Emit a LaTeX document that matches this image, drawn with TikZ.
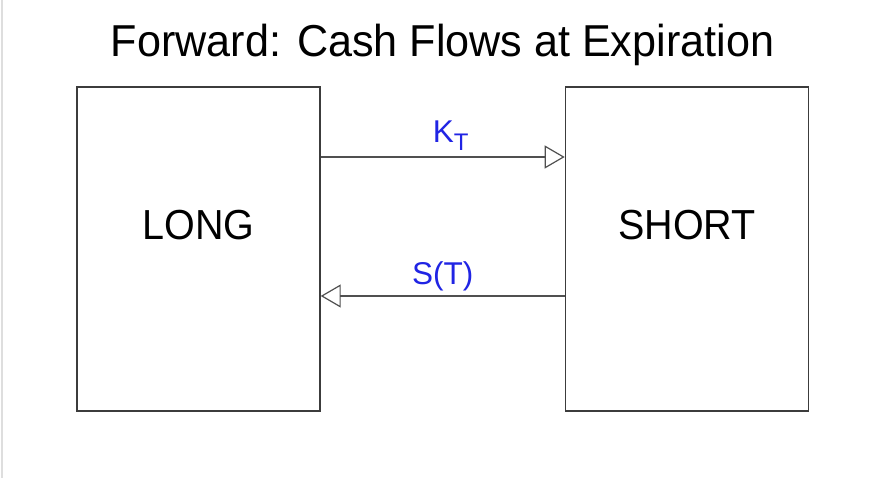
\documentclass[tikz,border=0pt]{standalone}
\usepackage{fontspec}
\setmainfont[FakeStretch=0.94]{Liberation Sans}
\newfontfamily\titlefont[FakeStretch=0.965]{Liberation Sans}
\newfontfamily\cashfont{Liberation Sans}
\usepackage{tikz}
\usetikzlibrary{positioning,arrows.meta}
\definecolor{myblue}{RGB}{32,36,228}
\definecolor{mygrey}{RGB}{60,60,60}

\begin{document}
\begin{tikzpicture}[x=1pt,y=1pt,
    party/.style={draw=mygrey, line width=1.4pt, minimum width=243pt, minimum height=324pt, inner sep=0pt},
    flow/.style={draw=mygrey!90, line width=1.2pt, -{Triangle[open, length=20pt, width=23pt, line width=1.2pt]}},
    cash/.style={text=myblue, font=\cashfont\fontsize{31.5}{34}\selectfont, anchor=base}]
    % Define the size of the page
    \useasboundingbox (0,0) rectangle (883,478);
    \fill[white] (0,0) rectangle (883,478);
    \draw[black!13, line width=2pt] (1.5,0) -- (1.5,478);

    % Draw the title
    \node[anchor=base, font=\titlefont\fontsize{44.7}{50}\selectfont] (title) at (442.5,421) {Forward: Cash Flows at Expiration};

    % Draw the two boxes
    \node[party] (long) at (198.5,229) {};
    \node[party, right=244pt of long] (short) {};
    \node[font=\fontsize{42}{46}\selectfont, yshift=24pt] (longtext) at (long.center) {LONG};
    \node[font=\fontsize{42}{46}\selectfont, yshift=24pt] (shorttext) at (short.center) {SHORT};

    % Draw the cash flows
    \draw[flow] ([yshift=92pt]long.east) -- ([yshift=92pt]short.west)
        node[cash, pos=0.5, xshift=8pt, yshift=14pt] (kt) {K\raisebox{-8pt}{\fontsize{24}{26}\selectfont T}};
    \draw[flow] ([yshift=-47pt]short.west) -- ([yshift=-47pt]long.east)
        node[cash, pos=0.5, yshift=11pt] (st) {S(T)};
\end{tikzpicture}
\end{document}
